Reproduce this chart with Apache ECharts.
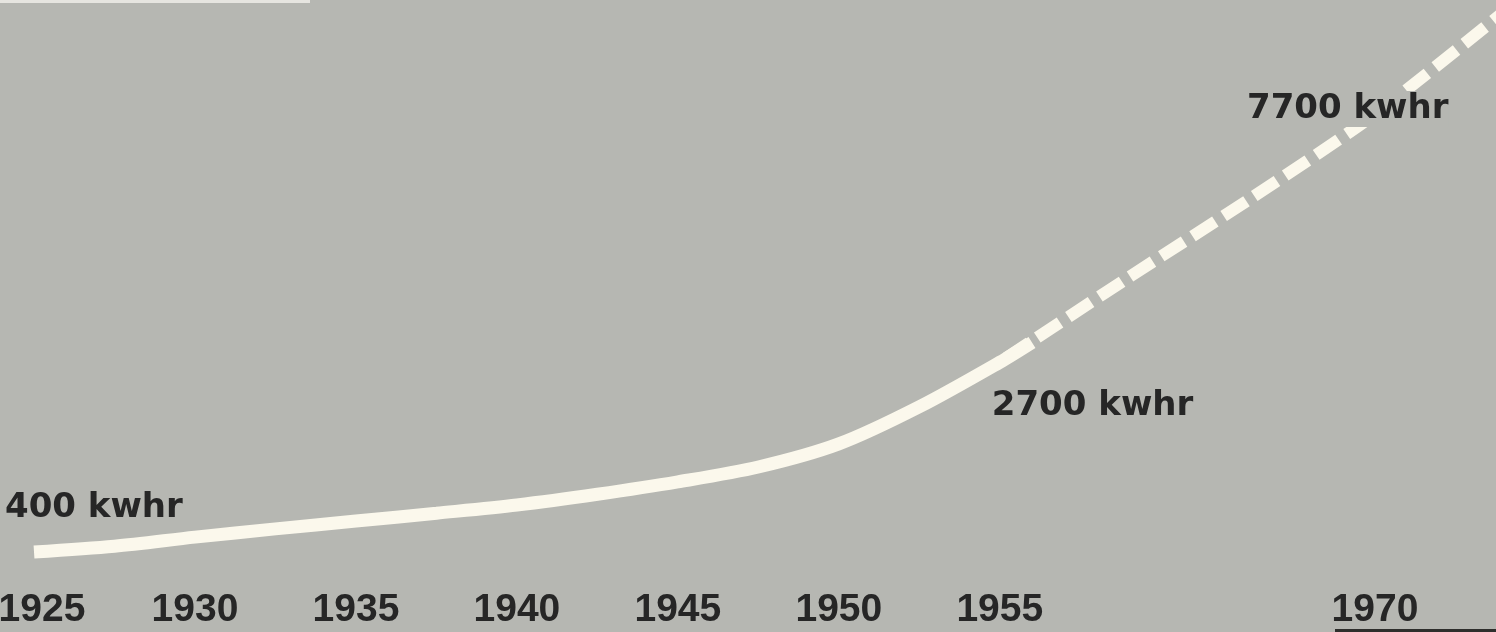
<!DOCTYPE html>
<html>
<head>
<meta charset="utf-8">
<title>Average household electricity use, kwhr per year</title>
<script src="https://cdn.jsdelivr.net/npm/echarts@6/dist/echarts.min.js"></script>
<style>
  html, body { margin: 0; padding: 0; background: #b6b7b2; }
  #chart { width: 1496px; height: 632px; }
</style>
</head>
<body>
<div id="chart"></div>
<script>
// Recorded use, 1925-1956 (kwhr per household per year)
const recordedYears  = [1925, 1927.5, 1930, 1932.5, 1935, 1937.5, 1940, 1942.5, 1945, 1947.5, 1950, 1952.5, 1955, 1956];
const recordedValues = [400, 470, 580, 680, 775, 870, 970, 1100, 1250, 1430, 1710, 2160, 2700, 2940];

// Projected use, 1955-1975
const projectedYears  = [1955, 1960, 1965, 1970, 1975];
const projectedValues = [2700, 4360, 5990, 7700, 9700];

// Years whose values carry a text label
const labelledRecorded  = [1925, 1955];
const labelledProjected = [1970];

// Year tick labels along the bottom
const recordedTickYears  = [1925, 1930, 1935, 1940, 1945, 1950, 1955];
const projectedTickYears = [1970];

const BG = '#b6b7b2';
const LINE = '#fbf8ec';
const INK = '#262626';

const valueLabel = {
  show: true,
  position: 'inside',
  align: 'left',
  verticalAlign: 'middle',
  fontFamily: 'DejaVu Sans',
  fontWeight: 'bold',
  fontSize: 34,
  color: INK,
  formatter: p => p.value[1] + ' kwhr'
};

// Label placement relative to its point, plus a paper-coloured backing
// where the text sits over the dashed projection
const labelStyles = {
  1925: { offset: [-29, -44] },
  1955: { offset: [-8, 44] },
  1970: { offset: [-128, -5], backgroundColor: BG, padding: [2, 0, 0, 0] }
};

function buildData(years, values, labelled) {
  return years.map((y, i) => {
    const item = { value: [y, values[i]] };
    if (labelled.includes(y)) {
      item.label = Object.assign({}, valueLabel, labelStyles[y]);
    }
    return item;
  });
}

const yearLabel = (ticks) => ({
  fontFamily: 'Liberation Sans',
  fontWeight: 'bold',
  fontSize: 39,
  color: INK,
  margin: 6,
  formatter: v => {
    if (!ticks.includes(v)) return '';
    return v === 1925 ? '{first|' + v + '}' : String(v);
  },
  rich: {
    first: {
      fontFamily: 'Liberation Sans',
      fontWeight: 'bold',
      fontSize: 39,
      color: INK,
      padding: [0, 0, 0, 16]
    }
  }
});

const chart = echarts.init(document.getElementById('chart'), null, { renderer: 'canvas' });

chart.setOption({
  backgroundColor: BG,
  animation: false,
  grid: [
    { left: 34, top: 90, width: 998, height: 495, outerBoundsMode: 'none', containLabel: false },
    { left: 1000, top: 0, width: 500, height: 496, outerBoundsMode: 'none', containLabel: false }
  ],
  xAxis: [
    {
      gridIndex: 0, type: 'value', min: 1925, max: 1956, interval: 5,
      axisLine: { show: false }, axisTick: { show: false }, splitLine: { show: false },
      axisLabel: Object.assign(yearLabel(recordedTickYears), { showMaxLabel: false })
    },
    {
      gridIndex: 1, type: 'value', min: 1955, max: 1975, interval: 5, offset: 89,
      axisLine: { show: false }, axisTick: { show: false }, splitLine: { show: false },
      axisLabel: yearLabel(projectedTickYears)
    }
  ],
  yAxis: [
    { gridIndex: 0, type: 'value', min: 0, max: 6000, show: false, splitLine: { show: false } },
    { gridIndex: 1, type: 'value', min: 0, max: 10000, show: false, splitLine: { show: false } }
  ],
  series: [
    {
      name: 'Projected',
      type: 'line',
      xAxisIndex: 1, yAxisIndex: 1,
      z: 2,
      smooth: 0.25,
      symbol: 'circle',
      symbolSize: 1,
      itemStyle: { color: 'rgba(0,0,0,0)' },
      lineStyle: { color: LINE, width: 12, type: [27, 10], dashOffset: 29, cap: 'butt' },
      data: buildData(projectedYears, projectedValues, labelledProjected)
    },
    {
      name: 'Recorded',
      type: 'line',
      xAxisIndex: 0, yAxisIndex: 0,
      z: 3,
      smooth: 0.3,
      symbol: 'circle',
      symbolSize: 1,
      itemStyle: { color: 'rgba(0,0,0,0)' },
      lineStyle: { color: LINE, width: 13, cap: 'butt' },
      data: buildData(recordedYears, recordedValues, labelledRecorded)
    }
  ],
  graphic: [
    // worn paper edges
    { type: 'rect', left: 0, top: 0, shape: { width: 310, height: 3 }, style: { fill: '#e6e5e0' }, silent: true },
    { type: 'rect', left: 1335, top: 629, shape: { width: 161, height: 3 }, style: { fill: '#2e2e2c' }, silent: true }
  ]
});
</script>
</body>
</html>
